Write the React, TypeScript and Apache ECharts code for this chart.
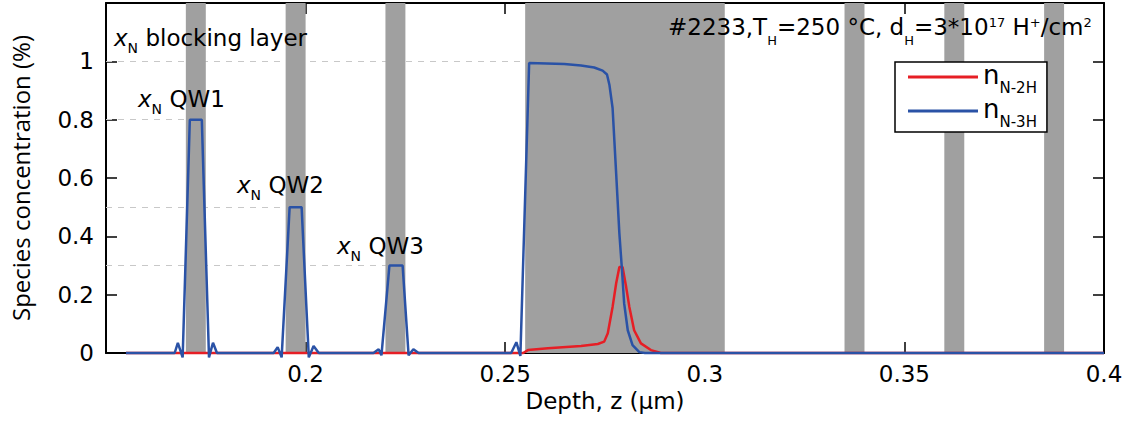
import React, { useEffect, useRef } from 'react';
import * as echarts from 'echarts';

// ---- data ----
const xMin = 0.15;
const xMax = 0.4;
const xStep = 0.05;
const yMin = 0;
const yMax = 1.2;
const yStep = 0.2;

const seriesNames = ['N-2H', 'N-3H'];

const n2hDepth = [0.155, 0.2545, 0.2557, 0.2607, 0.269, 0.2732, 0.2748, 0.2757, 0.2769, 0.2778, 0.2786, 0.2794, 0.2803, 0.2811, 0.2823, 0.284, 0.2865, 0.289, 0.4];
const n2hConc = [0, 0, 0.01, 0.016, 0.024, 0.031, 0.039, 0.068, 0.158, 0.239, 0.295, 0.295, 0.226, 0.158, 0.078, 0.033, 0.01, 0, 0];

const n3hDepth = [
  0.155, 0.1672, 0.168, 0.1692, 0.171, 0.174, 0.1758, 0.1768, 0.1778,
  0.192, 0.193, 0.194, 0.196, 0.199, 0.2008, 0.202, 0.2033,
  0.217, 0.2183, 0.219, 0.221, 0.2243, 0.2258, 0.227, 0.2283,
  0.2515, 0.2528, 0.2538, 0.256, 0.2648, 0.269, 0.2723, 0.2744, 0.2755, 0.2761, 0.2769, 0.2778, 0.2786, 0.2792, 0.2798, 0.2807, 0.2819, 0.2836, 0.285, 0.4,
];
const n3hConc = [
  0, 0, 0.035, -0.015, 0.8, 0.8, -0.015, 0.035, 0,
  0, 0.02, -0.015, 0.5, 0.5, -0.015, 0.024, 0,
  0, 0.013, -0.008, 0.3, 0.3, -0.008, 0.013, 0,
  0, 0.037, -0.01, 0.994, 0.991, 0.986, 0.979, 0.968, 0.955, 0.92, 0.84, 0.614, 0.41, 0.295, 0.17, 0.078, 0.027, 0.003, 0, 0,
];

const bandStart = [0.17, 0.195, 0.22, 0.255, 0.335, 0.36, 0.385];
const bandEnd = [0.175, 0.2, 0.225, 0.305, 0.34, 0.365, 0.39];

const guideLevel = [1, 0.8, 0.5, 0.3];
const guideEnd = [0.2553, 0.1712, 0.1962, 0.2212];

const annotationNames = [' blocking layer', ' QW1', ' QW2', ' QW3'];

// ---- styles ----
const FONT = 'DejaVu Sans';
const RED = '#e61e25';
const BLUE = '#2a52a6';

const fmtX = (v: number) => (Math.abs(v - xMin) < 1e-9 ? '' : String(parseFloat(v.toFixed(2))));
const fmtY = (v: number) => (v > 1.1 ? '' : String(parseFloat(v.toFixed(1))));

const annotationRich = {
  xi: { fontFamily: FONT, fontStyle: 'italic', fontSize: 23, lineHeight: 30, color: '#000' },
  sub: { fontFamily: FONT, fontSize: 14, lineHeight: 10, verticalAlign: 'top', padding: [18, 0, 0, 0], color: '#000' },
  m: { fontFamily: FONT, fontSize: 23, lineHeight: 30, color: '#000' },
};
const annotationPos = [
  [114, 23],
  [138, 84],
  [237, 170],
  [337, 231],
];

const infoRich = {
  m: { fontFamily: FONT, fontSize: 23, lineHeight: 40, color: '#000' },
  b: { fontFamily: FONT, fontSize: 13, lineHeight: 15, verticalAlign: 'bottom', color: '#000' },
  p: { fontFamily: FONT, fontSize: 13, lineHeight: 31, verticalAlign: 'top', padding: [9, 0, 0, 0], color: '#000' },
};

function buildOption() {
  const axisLine = { show: true, onZero: false, lineStyle: { color: '#000', width: 2 } };
  const axisTick = { show: true, inside: true, length: 11, lineStyle: { color: '#000', width: 1.5 } };
  const n2h = n2hDepth.map((d, i) => [d, n2hConc[i]]);
  const n3h = n3hDepth.map((d, i) => [d, n3hConc[i]]);
  return {
    animation: false,
    backgroundColor: '#fff',
    grid: { left: 104, right: 30, top: 3, bottom: 74, containLabel: false },
    xAxis: [
      {
        type: 'value', min: xMin, max: xMax, interval: xStep, position: 'bottom',
        axisLine, axisTick,
        axisLabel: { margin: 9, color: '#000', fontFamily: FONT, fontSize: 23, formatter: fmtX, showMinLabel: true, showMaxLabel: true },
        splitLine: { show: false },
        name: 'Depth, z (µm)', nameLocation: 'middle', nameGap: 35,
        nameTextStyle: { fontFamily: FONT, fontSize: 23, color: '#000' },
      },
      {
        type: 'value', min: xMin, max: xMax, interval: xStep, position: 'top',
        axisLine, axisTick, axisLabel: { show: false }, splitLine: { show: false },
      },
    ],
    yAxis: [
      {
        type: 'value', min: yMin, max: yMax, interval: yStep, position: 'left',
        axisLine, axisTick,
        axisLabel: { margin: 12, color: '#000', fontFamily: FONT, fontSize: 23, formatter: fmtY },
        splitLine: { show: false },
        name: 'Species concentration (%)', nameLocation: 'middle', nameGap: 74,
        nameTextStyle: { fontFamily: 'Open Sans', fontSize: 24, color: '#000' },
      },
      {
        type: 'value', min: yMin, max: yMax, interval: yStep, position: 'right',
        axisLine, axisTick, axisLabel: { show: false }, splitLine: { show: false },
      },
    ],
    legend: {
      orient: 'vertical', left: 895, top: 62, padding: [0, 10, 3, 13], itemGap: 1,
      itemWidth: 70, itemHeight: 3, icon: 'rect',
      borderColor: '#000', borderWidth: 1.5, borderRadius: 0, backgroundColor: '#fff',
      selectedMode: false,
      data: seriesNames,
      formatter: (name: string) => `{n|n}{s|${name}}`,
      textStyle: {
        rich: {
          n: { fontFamily: FONT, fontSize: 26, lineHeight: 30, verticalAlign: 'top', color: '#000' },
          s: { fontFamily: FONT, fontSize: 15, lineHeight: 4, verticalAlign: 'top', padding: [18, 0, 0, 0], color: '#000' },
        },
      },
    },
    series: [
      {
        name: seriesNames[0], type: 'line', data: n2h, symbol: 'none', clip: false, z: 10,
        lineStyle: { color: RED, width: 2.5 }, itemStyle: { color: RED },
        markArea: {
          silent: true, z: 1,
          itemStyle: { color: '#a0a0a0', opacity: 1 },
          data: bandStart.map((s, i) => [{ xAxis: s }, { xAxis: bandEnd[i] }]),
        },
        markLine: {
          silent: true, z: 0.5, symbol: ['none', 'none'], label: { show: false },
          lineStyle: { type: [6, 6], color: '#c8c8c8', width: 1 },
          data: guideLevel.map((y, i) => [{ coord: [xMin, y] }, { coord: [guideEnd[i], y] }]),
        },
      },
      {
        name: seriesNames[1], type: 'line', data: n3h, symbol: 'none', clip: false, z: 11,
        lineStyle: { color: BLUE, width: 2.5 }, itemStyle: { color: BLUE },
      },
    ],
    graphic: [
      ...annotationNames.map((t, i) => ({
        type: 'text', left: annotationPos[i][0], top: annotationPos[i][1], z: 100,
        style: { text: `{xi|x}{sub|N}{m|${t}}`, rich: annotationRich },
      })),
      {
        type: 'text', left: 668, top: 7, z: 100,
        style: {
          text: '{m|#2233,T}{b|H}{m|=250 °C, d}{b|H}{m|=3*10}{p|17}{m| H}{p|+}{m|/cm}{p|2}',
          rich: infoRich,
        },
      },
    ],
  };
}

export default function App() {
  const ref = useRef<HTMLDivElement>(null);
  useEffect(() => {
    const chart = echarts.init(ref.current as HTMLDivElement, null, { renderer: 'svg' });
    chart.setOption(buildOption() as any);
    return () => chart.dispose();
  }, []);
  return (
    <div
      ref={ref}
      style={{ position: 'fixed', left: 0, top: 0, width: 1134, height: 427, background: '#fff' }}
    />
  );
}
